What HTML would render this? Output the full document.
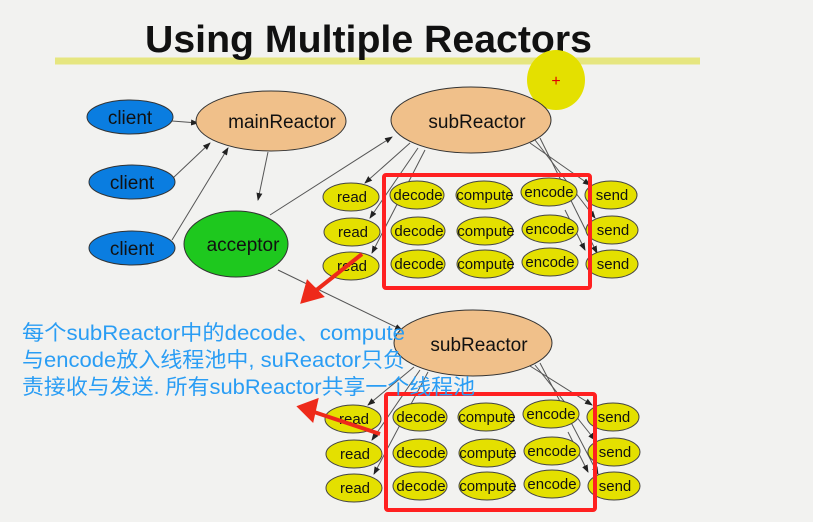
<!DOCTYPE html>
<html><head><meta charset="utf-8"><style>
html,body{margin:0;padding:0;background:#f2f2f0;}
svg{display:block}
text{font-family:"Liberation Sans","Noto Sans CJK SC",sans-serif;}
</style></head><body>
<svg width="813" height="522" viewBox="0 0 813 522" xmlns="http://www.w3.org/2000/svg">
<defs>
<marker id="a" markerWidth="8" markerHeight="8" refX="7" refY="4" orient="auto" markerUnits="userSpaceOnUse"><path d="M0,1 L8,4 L0,7 z" fill="#222"/></marker>
</defs>
<rect width="813" height="522" fill="#f2f2f0"/>
<line x1="55" y1="61" x2="700" y2="61" stroke="#e6e680" stroke-width="7"/>
<text x="145" y="52" font-size="38" font-weight="bold" textLength="447" lengthAdjust="spacingAndGlyphs" fill="#111">Using Multiple Reactors</text>
<ellipse cx="556" cy="80" rx="29" ry="30" fill="#e4e000"/>
<text x="556" y="86" font-size="16" fill="#e00000" text-anchor="middle">+</text>

<g stroke="#555" stroke-width="1" fill="none" marker-end="url(#a)">
<line x1="172" y1="121" x2="198" y2="123"/>
<line x1="173" y1="178" x2="210" y2="143"/>
<line x1="172" y1="240" x2="228" y2="148"/>
<line x1="268" y1="152" x2="258" y2="200"/>
<line x1="270" y1="215" x2="392" y2="137"/>
<line x1="278" y1="270" x2="402" y2="330"/>
<line x1="410" y1="143" x2="365" y2="183"/>
<line x1="418" y1="148" x2="370" y2="218"/>
<line x1="425" y1="150" x2="372" y2="253"/>
<line x1="530" y1="143" x2="590" y2="185"/>
<line x1="535" y1="140" x2="595" y2="218"/>
<line x1="540" y1="138" x2="597" y2="253"/>
<line x1="414" y1="367" x2="368" y2="405"/>
<line x1="420" y1="370" x2="372" y2="440"/>
<line x1="428" y1="372" x2="374" y2="474"/>
<line x1="530" y1="366" x2="592" y2="405"/>
<line x1="535" y1="365" x2="595" y2="440"/>
<line x1="540" y1="363" x2="598" y2="474"/>
<line x1="565" y1="210" x2="585" y2="250"/>
<line x1="568" y1="432" x2="588" y2="472"/>
</g>

<g stroke="#333" stroke-width="1">
<ellipse cx="130" cy="117" rx="43" ry="17" fill="#0a7de0"/>
<ellipse cx="132" cy="182" rx="43" ry="17" fill="#0a7de0"/>
<ellipse cx="132" cy="248" rx="43" ry="17" fill="#0a7de0"/>
<ellipse cx="271" cy="121" rx="75" ry="30" fill="#f0c08a"/>
<ellipse cx="236" cy="244" rx="52" ry="33" fill="#1ec81e"/>
<ellipse cx="471" cy="120" rx="80" ry="33" fill="#f0c08a"/>
<ellipse cx="473" cy="343" rx="79" ry="33" fill="#f0c08a"/>
</g>
<g font-size="19" fill="#111" text-anchor="middle">
<text x="130" y="124">client</text>
<text x="132" y="189">client</text>
<text x="132" y="255">client</text>
<text x="282" y="128">mainReactor</text>
<text x="243" y="251">acceptor</text>
<text x="477" y="128">subReactor</text>
<text x="479" y="351">subReactor</text>
</g>

<g stroke="#444" stroke-width="1" fill="#e4e000">
<ellipse cx="351" cy="197" rx="28" ry="14"/><ellipse cx="352" cy="232" rx="28" ry="14"/><ellipse cx="351" cy="266" rx="28" ry="14"/>
<ellipse cx="417" cy="195" rx="27" ry="14"/><ellipse cx="418" cy="231" rx="27" ry="14"/><ellipse cx="418" cy="264" rx="27" ry="14"/>
<ellipse cx="484" cy="195" rx="28" ry="14"/><ellipse cx="485" cy="231" rx="28" ry="14"/><ellipse cx="485" cy="264" rx="28" ry="14"/>
<ellipse cx="549" cy="192" rx="28" ry="14"/><ellipse cx="550" cy="229" rx="28" ry="14"/><ellipse cx="550" cy="262" rx="28" ry="14"/>
<ellipse cx="611" cy="195" rx="26" ry="14"/><ellipse cx="612" cy="230" rx="26" ry="14"/><ellipse cx="612" cy="264" rx="26" ry="14"/>
<ellipse cx="353" cy="419" rx="28" ry="14"/><ellipse cx="354" cy="454" rx="28" ry="14"/><ellipse cx="354" cy="488" rx="28" ry="14"/>
<ellipse cx="420" cy="417" rx="27" ry="14"/><ellipse cx="420" cy="453" rx="27" ry="14"/><ellipse cx="420" cy="486" rx="27" ry="14"/>
<ellipse cx="486" cy="417" rx="28" ry="14"/><ellipse cx="487" cy="453" rx="28" ry="14"/><ellipse cx="487" cy="486" rx="28" ry="14"/>
<ellipse cx="551" cy="414" rx="28" ry="14"/><ellipse cx="552" cy="451" rx="28" ry="14"/><ellipse cx="552" cy="484" rx="28" ry="14"/>
<ellipse cx="613" cy="417" rx="26" ry="14"/><ellipse cx="614" cy="452" rx="26" ry="14"/><ellipse cx="614" cy="486" rx="26" ry="14"/>
</g>
<g font-size="15" fill="#111" text-anchor="middle">
<text x="352" y="202">read</text><text x="353" y="237">read</text><text x="352" y="271">read</text>
<text x="418" y="200">decode</text><text x="419" y="236">decode</text><text x="419" y="269">decode</text>
<text x="485" y="200">compute</text><text x="486" y="236">compute</text><text x="486" y="269">compute</text>
<text x="549" y="197">encode</text><text x="550" y="234">encode</text><text x="550" y="267">encode</text>
<text x="612" y="200">send</text><text x="613" y="235">send</text><text x="613" y="269">send</text>
<text x="354" y="424">read</text><text x="355" y="459">read</text><text x="355" y="493">read</text>
<text x="421" y="422">decode</text><text x="421" y="458">decode</text><text x="421" y="491">decode</text>
<text x="487" y="422">compute</text><text x="488" y="458">compute</text><text x="488" y="491">compute</text>
<text x="551" y="419">encode</text><text x="552" y="456">encode</text><text x="552" y="489">encode</text>
<text x="614" y="422">send</text><text x="615" y="457">send</text><text x="615" y="491">send</text>
</g>

<rect x="384" y="175" width="206" height="113" fill="none" stroke="#ff2020" stroke-width="4" rx="2"/>
<rect x="386" y="394" width="209" height="116" fill="none" stroke="#ff2020" stroke-width="4" rx="2"/>

<g stroke="#ee2a1a" stroke-width="4" fill="#ee2a1a">
<line x1="362" y1="254" x2="314" y2="292"/>
<path d="M303,301 L308,283 L321,296 z"/>
<line x1="380" y1="434" x2="314" y2="412"/>
<path d="M300,407 L316,401 L312,419 z"/>
</g>

<g font-size="21" fill="#2a9df4">
<text x="22" y="340" textLength="383" lengthAdjust="spacingAndGlyphs">每个subReactor中的decode、compute</text>
<text x="22" y="367" textLength="383" lengthAdjust="spacingAndGlyphs">与encode放入线程池中, suReactor只负</text>
<text x="22" y="394" textLength="453" lengthAdjust="spacingAndGlyphs">责接收与发送. 所有subReactor共享一个线程池</text>
</g>
</svg>
</body></html>
